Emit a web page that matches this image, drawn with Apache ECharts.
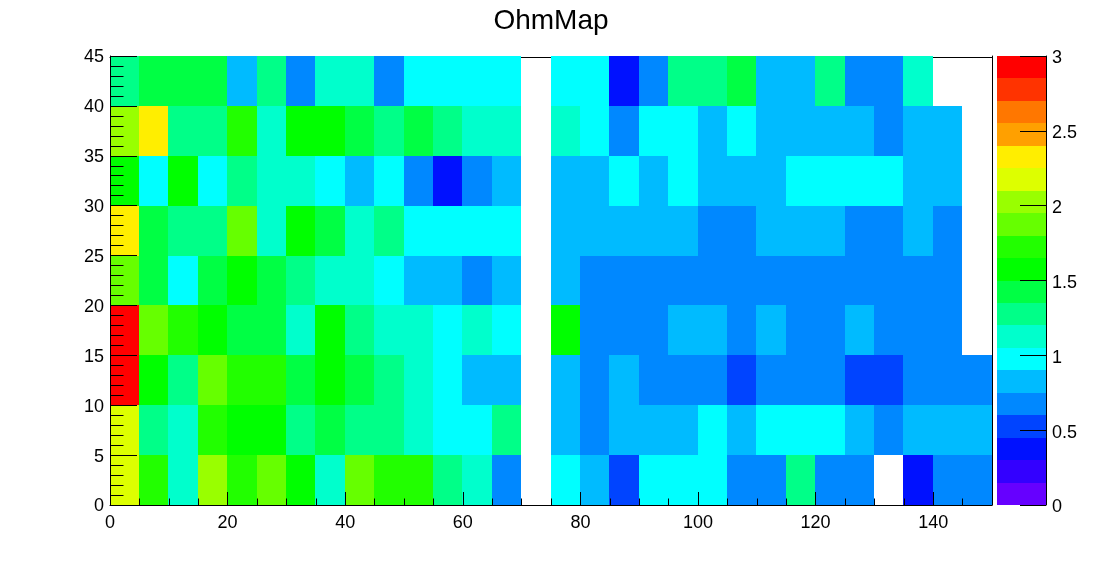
<!DOCTYPE html>
<html>
<head>
<meta charset="utf-8">
<style>html,body{margin:0;padding:0;background:#fff}#c{width:1102px;height:562px}</style>
<script src="https://cdn.jsdelivr.net/npm/echarts@6/dist/echarts.min.js"></script>
</head>
<body>
<div id="c"></div>
<script>
var n = null;
// Estimated resistance per 5x5 bin; x bins run 0..150, one row per y bin.
var row0  = [2.175,1.725,1.125,2.025,1.725,1.875,1.575,1.125,1.875,1.725,1.725,1.275,1.125,0.675,n,0.975,0.825,0.525,0.975,0.975,0.975,0.675,0.675,1.275,0.675,0.675,n,0.375,0.675,0.675];
var row5  = [2.175,1.275,1.125,1.725,1.575,1.575,1.275,1.425,1.275,1.275,1.125,0.975,0.975,1.275,n,0.825,0.675,0.825,0.825,0.825,0.975,0.825,0.975,0.975,0.975,0.825,0.675,0.825,0.825,0.825];
var row10 = [2.925,1.575,1.275,1.875,1.725,1.725,1.425,1.575,1.425,1.275,1.125,0.975,0.825,0.825,n,0.825,0.675,0.825,0.675,0.675,0.675,0.525,0.675,0.675,0.675,0.525,0.525,0.675,0.675,0.675];
var row15 = [2.925,1.875,1.725,1.575,1.425,1.425,1.125,1.575,1.275,1.125,1.125,0.975,1.125,0.975,n,1.575,0.675,0.675,0.675,0.825,0.825,0.675,0.825,0.675,0.675,0.825,0.675,0.675,0.675,n];
var row20 = [1.875,1.425,0.975,1.425,1.575,1.425,1.275,1.125,1.125,0.975,0.825,0.825,0.675,0.825,n,0.825,0.675,0.675,0.675,0.675,0.675,0.675,0.675,0.675,0.675,0.675,0.675,0.675,0.675,n];
var row25 = [2.325,1.425,1.275,1.275,1.875,1.125,1.575,1.425,1.125,1.275,0.975,0.975,0.975,0.975,n,0.825,0.825,0.825,0.825,0.825,0.675,0.675,0.825,0.825,0.825,0.675,0.675,0.825,0.675,n];
var row30 = [1.575,0.975,1.575,0.975,1.275,1.125,1.125,0.975,0.825,0.975,0.675,0.375,0.675,0.825,n,0.825,0.825,0.975,0.825,0.975,0.825,0.825,0.825,0.975,0.975,0.975,0.975,0.825,0.825,n];
var row35 = [2.025,2.325,1.275,1.275,1.725,1.125,1.575,1.575,1.425,1.275,1.425,1.275,1.125,1.125,n,1.125,0.975,0.675,0.975,0.975,0.825,0.975,0.825,0.825,0.825,0.825,0.675,0.825,0.825,n];
var row40 = [1.275,1.425,1.425,1.425,0.825,1.275,0.675,1.125,1.125,0.675,0.975,0.975,0.975,0.975,n,0.975,0.975,0.375,0.675,1.275,1.275,1.425,0.825,0.825,1.275,0.675,0.675,1.125,n,n];
var rows = [row0,row5,row10,row15,row20,row25,row30,row35,row40];

var palette = ['#6600ff','#3300ff','#0011ff','#0044ff','#0088ff','#00bbff','#00ffff','#00ffcc','#00ff88','#00ff44',
               '#00ff00','#22ff00','#66ff00','#99ff00','#ddff00','#ffee00','#ffa000','#ff7700','#ff3300','#ff0000'];
var zMin = 0, zMax = 3, binSize = 5;
var levelSize = (zMax - zMin) / palette.length;

function colorOf(v) {
  var i = Math.floor((v - zMin) / levelSize);
  return palette[Math.max(0, Math.min(palette.length - 1, i))];
}

var cells = [];
rows.forEach(function (r, j) {
  r.forEach(function (v, i) {
    if (v !== null) cells.push([i * binSize, j * binSize, v]);
  });
});
var levels = palette.map(function (c, i) { return [0, i * levelSize, (i + 1) * levelSize, i]; });

var labelStyle = { color: '#000', fontFamily: 'Liberation Sans', fontSize: 18 };
var blackLine = { color: '#000', width: 1 };
var chart = echarts.init(document.getElementById('c'), null, { renderer: 'canvas' });
chart.setOption({
  animation: false,
  backgroundColor: '#fff',
  title: {
    text: 'OhmMap', left: 'center', top: 2,
    textStyle: { color: '#000', fontFamily: 'Liberation Sans', fontSize: 28, fontWeight: 'normal' }
  },
  grid: [
    { left: 110, top: 56, width: 882, height: 449, show: false },
    { left: 997, top: 56, width: 49, height: 449, show: false }
  ],
  xAxis: [
    { type: 'value', gridIndex: 0, min: 0, max: 150, interval: 20, z: 5,
      splitLine: { show: false },
      axisLine: { show: true, onZero: false, lineStyle: blackLine },
      axisTick: { show: true, inside: true, length: 13, lineStyle: blackLine },
      minorTick: { show: true, splitNumber: 4, length: 6.5, lineStyle: blackLine },
      axisLabel: Object.assign({ margin: 9, showMaxLabel: false }, labelStyle) },
    { type: 'value', gridIndex: 1, min: 0, max: 1, show: false },
    { type: 'value', gridIndex: 0, min: 0, max: 150, position: 'top', offset: -1, z: 0,
      splitLine: { show: false }, axisTick: { show: false }, axisLabel: { show: false },
      axisLine: { show: true, onZero: false, lineStyle: blackLine } }
  ],
  yAxis: [
    { type: 'value', gridIndex: 0, min: 0, max: 45, interval: 5, z: 5,
      splitLine: { show: false },
      axisLine: { show: true, onZero: false, lineStyle: blackLine },
      axisTick: { show: true, inside: true, length: 27, lineStyle: blackLine },
      minorTick: { show: true, splitNumber: 5, length: 13.5, lineStyle: blackLine },
      axisLabel: Object.assign({ margin: 6, verticalAlign: 'top', lineHeight: 3 }, labelStyle) },
    { type: 'value', gridIndex: 1, min: 0, max: 3, interval: 0.5, position: 'right', z: 5,
      splitLine: { show: false },
      axisLine: { show: true, onZero: false, lineStyle: blackLine },
      axisTick: { show: true, inside: true, length: 26, lineStyle: blackLine },
      axisLabel: Object.assign({ margin: 6, verticalAlign: 'top', lineHeight: 5 }, labelStyle) },
    { type: 'value', gridIndex: 0, min: 0, max: 45, position: 'right', z: 5,
      splitLine: { show: false }, axisTick: { show: false }, axisLabel: { show: false },
      axisLine: { show: true, onZero: false, lineStyle: blackLine } }
  ],
  series: [
    { type: 'custom', xAxisIndex: 0, yAxisIndex: 0, data: cells, silent: true,
      encode: { x: 0, y: 1 },
      renderItem: function (params, api) {
        var a = api.coord([api.value(0), api.value(1)]);
        var b = api.coord([api.value(0) + binSize, api.value(1) + binSize]);
        var x0 = Math.floor(a[0] + 1e-6), x1 = Math.floor(b[0] + 1e-6);
        var y0 = Math.round(b[1]), y1 = Math.round(a[1]);
        return { type: 'rect', shape: { x: x0, y: y0, width: x1 - x0, height: y1 - y0 },
                 style: { fill: colorOf(api.value(2)) } };
      } },
    { type: 'custom', xAxisIndex: 1, yAxisIndex: 1, data: levels, silent: true,
      encode: { y: [1, 2] },
      renderItem: function (params, api) {
        var a = api.coord([0, api.value(1)]);
        var b = api.coord([1, api.value(2)]);
        var y0 = Math.round(b[1]), y1 = Math.round(a[1]);
        return { type: 'rect', shape: { x: a[0], y: y0, width: b[0] - a[0], height: y1 - y0 },
                 style: { fill: palette[api.value(3)] } };
      } }
  ]
});
</script>
</body>
</html>
